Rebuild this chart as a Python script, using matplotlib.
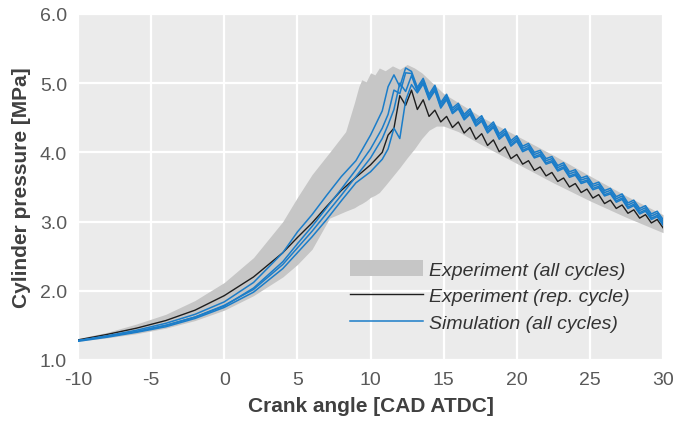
import numpy as np
import matplotlib.pyplot as plt

plt.rcParams['font.family'] = ['Liberation Sans', 'DejaVu Sans']
plt.rcParams['axes.unicode_minus'] = False

# spread of all measured cycles (min / max envelope)
cad_band = [-10, -8, -6, -4, -2, 0, 2, 4, 5, 6, 7.2, 8.3, 8.9, 9.2, 9.4, 9.7,
            10.0, 10.3, 10.6, 11.0, 11.5, 12.0, 12.5, 13.0, 13.5, 14.0, 14.5,
            15.0, 16, 17.5, 20, 22.5, 25, 27.5, 30]
band_hi = [1.31, 1.40, 1.52, 1.66, 1.86, 2.12, 2.48, 3.00, 3.35, 3.68, 4.00,
           4.30, 4.72, 4.95, 5.05, 5.02, 5.15, 5.12, 5.22, 5.18, 5.25, 5.20,
           5.27, 5.22, 5.15, 5.05, 4.95, 4.85, 4.72, 4.52, 4.24, 3.96, 3.66,
           3.37, 3.10]
band_lo = [1.27, 1.32, 1.38, 1.46, 1.57, 1.72, 1.93, 2.20, 2.38, 2.60, 3.05,
           3.15, 3.20, 3.24, 3.26, 3.30, 3.35, 3.38, 3.42, 3.52, 3.65, 3.78,
           3.92, 4.05, 4.20, 4.32, 4.38, 4.38, 4.30, 4.12, 3.84, 3.56, 3.30,
           3.06, 2.84]

# crank angle grid shared by the single-cycle traces
cad = [-10, -8, -6, -4, -2, 0, 2, 4, 5, 6, 7, 8, 9, 10, 10.8,
       11.2, 11.6, 12.0, 12.4, 12.8, 13.2, 13.6, 14.0, 14.4, 14.8, 15.2, 15.6,
       16.0, 16.4, 16.8, 17.2, 17.6, 18.0, 18.4, 18.8, 19.2, 19.6, 20.0, 20.4,
       20.8, 21.2, 21.6, 22.0, 22.4, 22.8, 23.2, 23.6, 24.0, 24.4, 24.8, 25.2,
       25.6, 26.0, 26.4, 26.8, 27.2, 27.6, 28.0, 28.4, 28.8, 29.2, 29.6, 30.0]

# representative measured cycle
p_rep = [1.29, 1.37, 1.46, 1.57, 1.72, 1.93, 2.20, 2.55, 2.77, 2.98, 3.22,
         3.45, 3.64, 3.82, 4.00,
         4.25, 4.35, 4.82, 4.68, 4.90, 4.62, 4.76, 4.52, 4.61, 4.44, 4.52, 4.36,
         4.44, 4.28, 4.36, 4.19, 4.27, 4.10, 4.18, 4.01, 4.08, 3.91, 3.97, 3.83,
         3.88, 3.74, 3.79, 3.66, 3.71, 3.58, 3.63, 3.50, 3.55, 3.42, 3.47, 3.34,
         3.39, 3.26, 3.31, 3.19, 3.24, 3.12, 3.17, 3.05, 3.10, 2.98, 3.03, 2.91]

# simulated cycles
p_sim1 = [1.28, 1.35, 1.43, 1.53, 1.66, 1.84, 2.12, 2.55, 2.85, 3.10, 3.38,
          3.65, 3.88, 4.25, 4.60,
          4.95, 5.12, 4.95, 5.22, 5.17, 4.94, 5.07, 4.84, 4.97, 4.72, 4.84, 4.64,
          4.71, 4.55, 4.63, 4.46, 4.53, 4.36, 4.44, 4.27, 4.34, 4.17, 4.24, 4.09,
          4.13, 4.00, 4.03, 3.91, 3.94, 3.81, 3.85, 3.72, 3.75, 3.63, 3.66, 3.54,
          3.57, 3.45, 3.48, 3.36, 3.40, 3.27, 3.31, 3.19, 3.23, 3.11, 3.15, 3.03]
p_sim2 = [1.28, 1.34, 1.41, 1.50, 1.62, 1.78, 2.04, 2.42, 2.68, 2.93, 3.20,
          3.47, 3.75, 4.05, 4.35,
          4.55, 4.90, 4.85, 5.15, 5.14, 4.91, 5.04, 4.81, 4.94, 4.69, 4.81, 4.61,
          4.68, 4.52, 4.60, 4.43, 4.50, 4.33, 4.41, 4.24, 4.31, 4.14, 4.21, 4.06,
          4.10, 3.97, 4.00, 3.88, 3.91, 3.78, 3.82, 3.69, 3.72, 3.60, 3.63, 3.51,
          3.54, 3.42, 3.45, 3.33, 3.37, 3.24, 3.28, 3.16, 3.20, 3.08, 3.12, 3.00]
p_sim3 = [1.28, 1.34, 1.41, 1.50, 1.62, 1.79, 2.02, 2.38, 2.62, 2.86, 3.12,
          3.38, 3.65, 3.92, 4.20,
          4.40, 4.62, 5.00, 4.88, 5.11, 4.88, 5.01, 4.78, 4.91, 4.66, 4.78, 4.58,
          4.65, 4.49, 4.57, 4.40, 4.47, 4.30, 4.38, 4.21, 4.28, 4.11, 4.18, 4.03,
          4.07, 3.94, 3.97, 3.85, 3.88, 3.75, 3.79, 3.66, 3.69, 3.57, 3.60, 3.48,
          3.51, 3.39, 3.42, 3.30, 3.34, 3.21, 3.25, 3.13, 3.17, 3.05, 3.09, 2.97]
p_sim4 = [1.27, 1.33, 1.40, 1.48, 1.60, 1.76, 1.98, 2.32, 2.55, 2.78, 3.03,
          3.30, 3.56, 3.72, 3.90,
          4.05, 4.35, 4.20, 4.75, 4.98, 4.86, 4.99, 4.76, 4.89, 4.64, 4.76, 4.56,
          4.63, 4.47, 4.55, 4.38, 4.45, 4.28, 4.36, 4.19, 4.26, 4.09, 4.16, 4.01,
          4.05, 3.92, 3.95, 3.83, 3.86, 3.73, 3.77, 3.64, 3.67, 3.55, 3.58, 3.46,
          3.49, 3.37, 3.40, 3.28, 3.32, 3.19, 3.23, 3.11, 3.15, 3.03, 3.07, 2.95]
sim_cycles = [p_sim1, p_sim2, p_sim3, p_sim4]

x_ticks = [-10, -5, 0, 5, 10, 15, 20, 25, 30]
y_ticks = [1.0, 2.0, 3.0, 4.0, 5.0, 6.0]

fig = plt.figure(figsize=(6.75, 4.27), dpi=100)
ax = fig.add_axes([0.1156, 0.1546, 0.8667, 0.8103])
ax.set_facecolor('#ebebeb')

ax.fill_between(cad_band, band_lo, band_hi, color='#c6c6c6', lw=0,
                label='Experiment (all cycles)', zorder=2)
ax.plot(cad, p_rep, color='#1e1e1e', lw=1.0, zorder=3,
        label='Experiment (rep. cycle)')
for i, p in enumerate(sim_cycles):
    ax.plot(cad, p, color='#1b7dc9', lw=1.1, zorder=4,
            label='Simulation (all cycles)' if i == 0 else None)

ax.set_xlim(-10, 30)
ax.set_ylim(1.0, 6.0)
ax.set_xticks(x_ticks)
ax.set_yticks(y_ticks)
ax.set_yticklabels([f'{v:.1f}' for v in y_ticks])
ax.grid(True, color='white', lw=1.6, zorder=1)
ax.set_axisbelow(True)
for s in ax.spines.values():
    s.set_visible(False)
ax.tick_params(length=0, pad=8, labelsize=14, labelcolor='#595959')

ax.set_xlabel('Crank angle [CAD ATDC]', fontsize=15, fontweight='bold',
              color='#404040', labelpad=6)
ax.set_ylabel('Cylinder pressure [MPa]', fontsize=15, fontweight='bold',
              color='#404040', labelpad=6)

leg = ax.legend(loc='upper left', bbox_to_anchor=(0.451, 0.311), frameon=False,
                prop={'style': 'italic', 'size': 14},
                handlelength=3.75, handleheight=0.9, handletextpad=0.35,
                labelspacing=0.4, borderaxespad=0)
for t in leg.get_texts():
    t.set_color('#333333')

fig.savefig('out.png', dpi=100)
